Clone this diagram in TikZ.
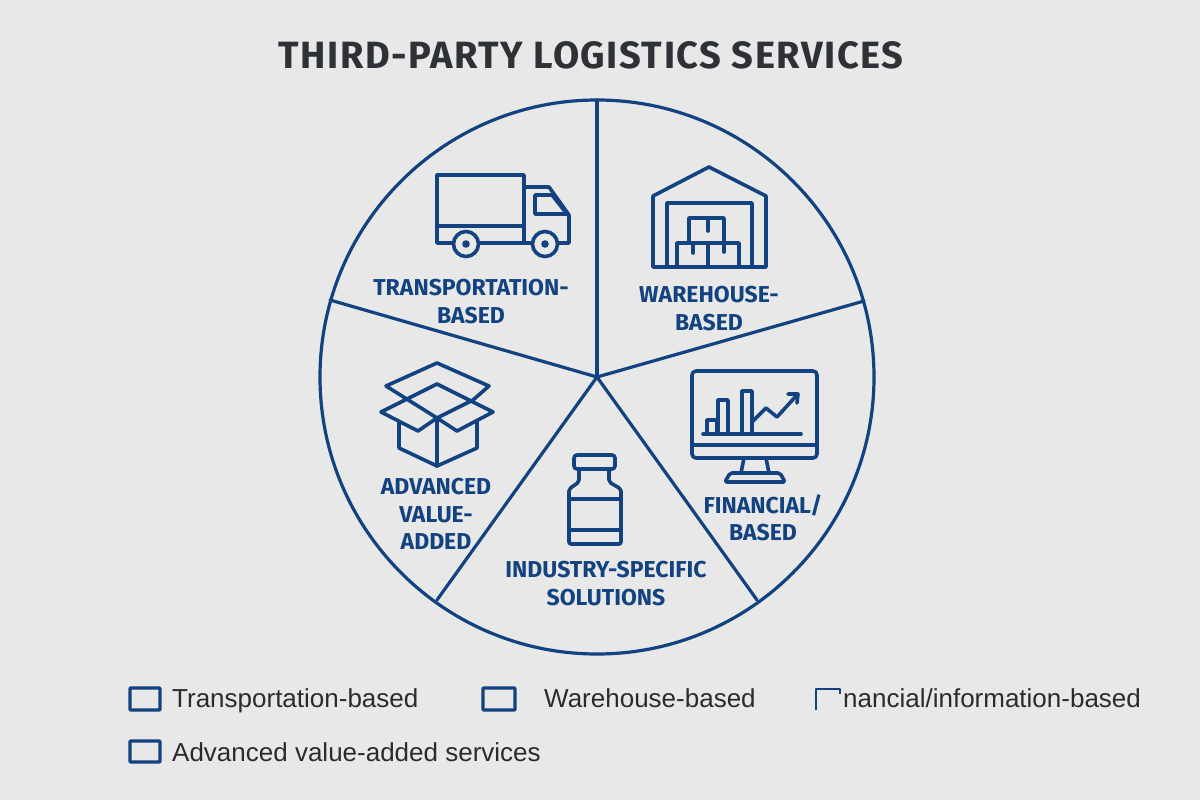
\documentclass[tikz,border=0pt]{standalone}
\usepackage{fontspec}
\setmainfont{Fira Sans}
\newfontfamily\legfont{Liberation Sans}
\definecolor{bgc}{HTML}{E8E8E8}
\definecolor{navy}{HTML}{12427F}
\definecolor{titlec}{HTML}{2E3236}
\definecolor{legc}{HTML}{2B2B2B}
\tikzset{
 ln/.style={draw=navy,line width=3.2pt,line join=round,line cap=round},
 ic/.style={draw=navy,line width=3.6pt,line join=round,line cap=round},
 lab/.style={text=navy,font=\fontsize{23}{27.5}\selectfont\bfseries,align=center,inner sep=0pt},
 leg/.style={text=legc,font=\legfont\fontsize{26}{28}\selectfont,anchor=base west,inner sep=0pt},
 lbox/.style={draw=navy,line width=3.4pt,line join=round,rounded corners=0.8pt},
}
\begin{document}
\begin{tikzpicture}[x=1pt,y=-1pt]
\path[use as bounding box,fill=bgc] (0,0) rectangle (1200,800);
\node[text=titlec,font=\fontsize{38}{40}\selectfont\bfseries\addfontfeature{LetterSpace=4},inner sep=0pt,anchor=base] (title) at (591,69) {THIRD-PARTY LOGISTICS SERVICES};
% pie
\coordinate (c) at (597,377);
\draw[ln] (c) circle (277);
\coordinate (s1) at (597,100);\coordinate (s2) at (864,301);\coordinate (s3) at (757,600);\coordinate (s4) at (437,600);\coordinate (s5) at (330,300);
\foreach \s in {s1,s2,s3,s4,s5} \draw[ln] (c) -- (\s);
% truck
\draw[ic] (437,175) rectangle (524,243);
\draw[ic] (437,226) -- (524,226);
\draw[ic] (524,187) -- (549,187) -- (569,215) -- (569,243) -- (524,243);
\draw[ic] (535,195) -- (552,195) -- (567,214) -- (535,214) -- cycle;
\foreach \x in {466,545}{\draw[ic,fill=bgc] (\x,244) circle (12.5);\fill[navy] (\x,244) circle (3.8);}
% warehouse
\draw[ic] (653,267) -- (653,196) -- (709,167) -- (766,196) -- (766,267) -- cycle;
\draw[ic] (667,267) -- (667,203) -- (752,203) -- (752,267);
\draw[ic] (689,243) -- (689,218) -- (724,218) -- (724,243);
\draw[ic] (677,267) -- (677,243) -- (739,243) -- (739,267);
\draw[ic] (708,243) -- (708,267);
\draw[ic] (708,218) -- (708,231);
\draw[ic] (693,243) -- (693,253);
\draw[ic] (724,243) -- (724,252);
% monitor
\draw[ic,rounded corners=4pt] (692,371) rectangle (817,458);
\draw[ic] (692,445) -- (817,445);
\draw[ic] (744,458) -- (741,473);
\draw[ic] (766,458) -- (769,473);
\draw[ic,rounded corners=2pt] (725,482) -- (730,473) -- (780,473) -- (785,482) -- cycle;
\draw[ic] (703,434) -- (801,434);
\draw[ic] (707,433) -- (707,420) -- (717,420) -- (717,433);
\draw[ic] (718,433) -- (718,400) -- (728,400) -- (728,433);
\draw[ic] (742,433) -- (742,391) -- (752,391) -- (752,433);
\draw[ic] (752,422) -- (766,408) -- (777,417) -- (797,395);
\draw[ic] (788,394) -- (798,394) -- (797,403);
% bottle
\draw[ic,rounded corners=3pt] (574,455) rectangle (615,469);
\draw[ic,rounded corners=2pt] (579,469) -- (579,482) -- (569,489) -- (569,544) -- (621,544) -- (621,489) -- (609,482) -- (609,469);
\draw[ic] (569,499) -- (621,499);
\draw[ic] (569,530) -- (621,530);
% box
\draw[ic] (473,400) -- (489,386) -- (437,363) -- (386,386) -- (437,418) -- (473,400);
\draw[ic] (381,412) -- (437,384) -- (493,412) -- (457,431) -- (437,418) -- (418,431) -- cycle;
\draw[ic] (399,422) -- (399,448) -- (437,466) -- (477,448) -- (477,422);
\draw[ic] (437,418) -- (437,466);
% labels
\node[lab] (l1) at (471,301.5) {TRANSPORTATION-\\BASED};
\node[lab] (l2) at (709,308.5) {WAREHOUSE-\\BASED};
\node[lab] (l3) at (763,518) {FINANCIAL/\\BASED};
\node[lab] (l4) at (606,583.5) {INDUSTRY-SPECIFIC\\SOLUTIONS};
\node[lab] (l5) at (436,514) {ADVANCED\\VALUE-\\ADDED};
% legend
\draw[lbox] (130,688) rectangle (160,710);
\draw[lbox] (483,688) rectangle (515,710);
\draw[navy,line width=1.8pt,line join=round] (816,710) -- (816,689) -- (840,689) -- (840,694);
\draw[lbox] (130,741) rectangle (160,762);
\node[leg] (t1) at (172,707) {Transportation-based};
\node[leg] (t2) at (544,707) {Warehouse-based};
\node[leg] (t3) at (843,707) {nancial/information-based};
\node[leg] (t4) at (172,761) {Advanced value-added services};
\end{tikzpicture}
\end{document}
